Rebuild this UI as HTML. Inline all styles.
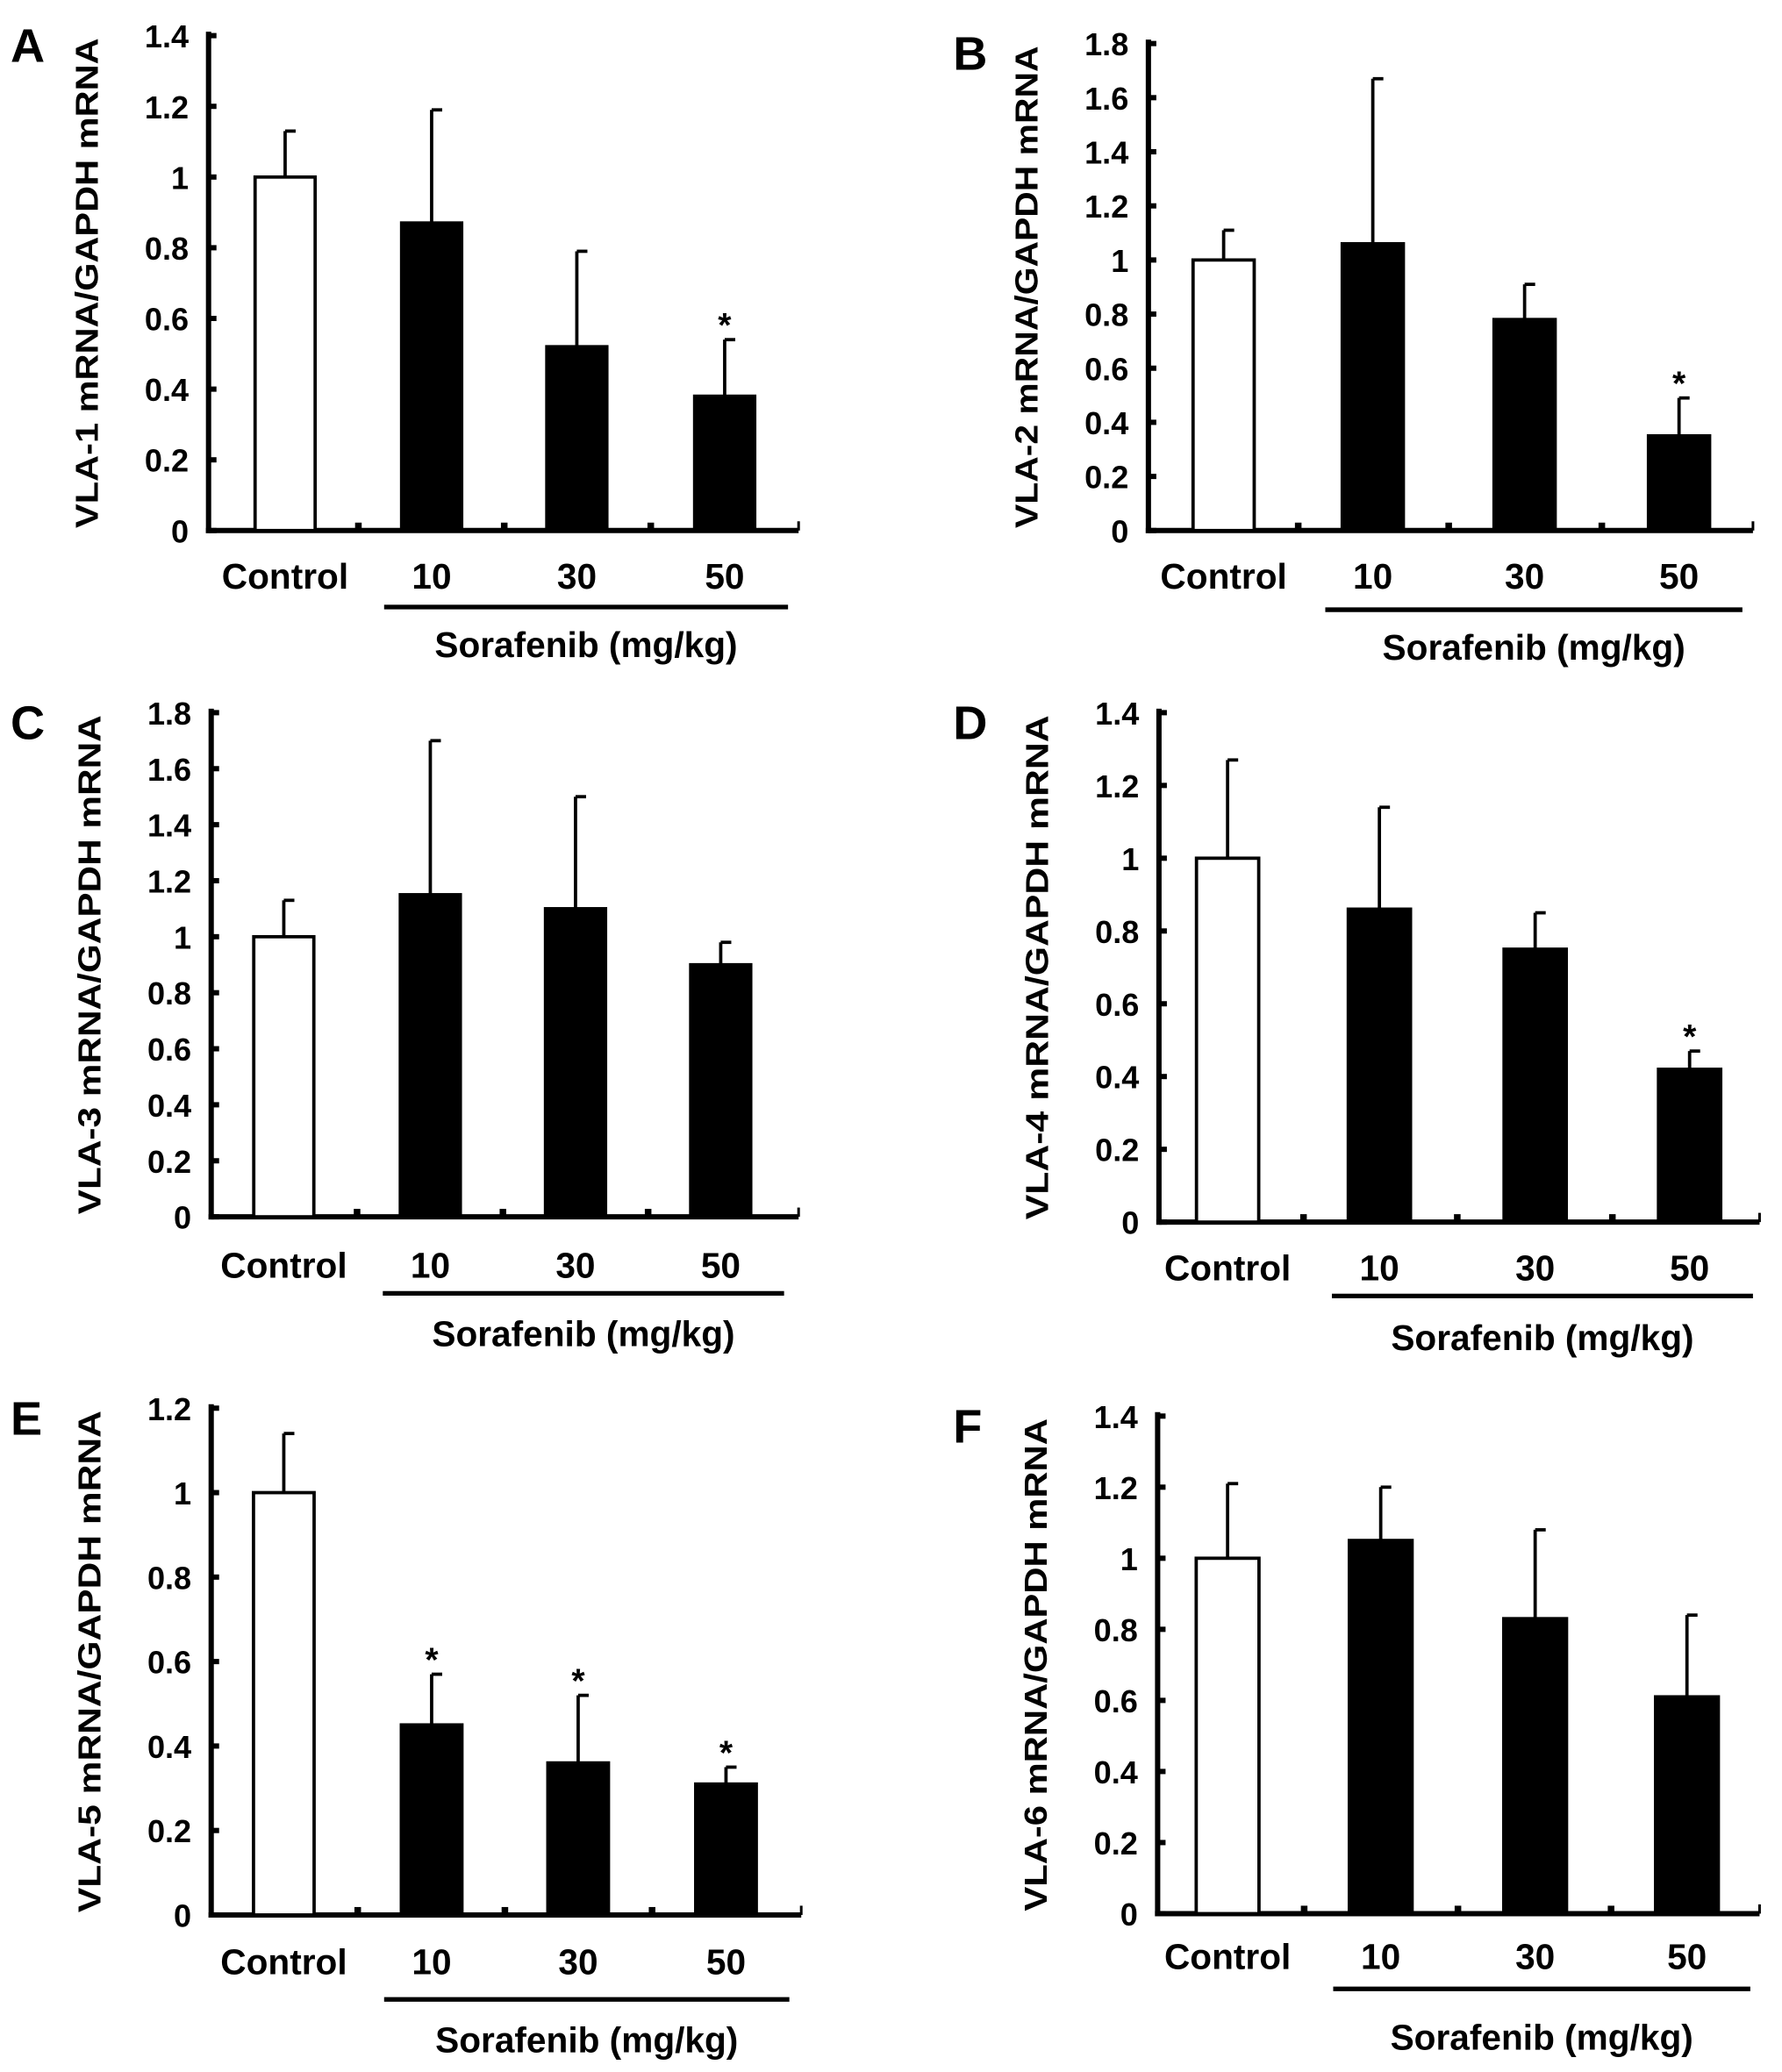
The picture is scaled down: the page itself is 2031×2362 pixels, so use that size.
<!DOCTYPE html>
<html><head><meta charset="utf-8"><style>
html,body{margin:0;padding:0;background:#fff;}
svg{display:block;}
text{font-family:"Liberation Sans",Arial,sans-serif;font-weight:bold;fill:#000;}
</style></head><body>
<svg id="fig" width="2031" height="2362" viewBox="0 0 1350 1570" preserveAspectRatio="none" xmlns="http://www.w3.org/2000/svg"></svg>
<script>
const categories = ["Control","10","30","50"];
const valsA = [1.0,0.87,0.52,0.38], errA = [1.13,1.19,0.79,0.54], starA = [0,0,0,1];
const valsB = [1.0,1.06,0.78,0.35], errB = [1.11,1.67,0.91,0.49], starB = [0,0,0,1];
const valsC = [1.0,1.15,1.10,0.90], errC = [1.13,1.70,1.50,0.98], starC = [0,0,0,0];
const valsD = [1.0,0.86,0.75,0.42], errD = [1.27,1.14,0.85,0.47], starD = [0,0,0,1];
const valsE = [1.0,0.45,0.36,0.31], errE = [1.14,0.57,0.52,0.35], starE = [0,1,1,1];
const valsF = [1.0,1.05,0.83,0.61], errF = [1.21,1.20,1.08,0.84], starF = [0,0,0,0];
const ticks14 = ["0","0.2","0.4","0.6","0.8","1","1.2","1.4"];
const ticks18 = ["0","0.2","0.4","0.6","0.8","1","1.2","1.4","1.6","1.8"];
const ticks12 = ["0","0.2","0.4","0.6","0.8","1","1.2"];

const panels = [
 {L:"A",t:"VLA-1 mRNA/GAPDH mRNA",v:valsA,e:errA,s:starA,tk:ticks14,max:1.4,ax:158,top:27,zero:402,end:605,cx:[216,327,437,549],lab:436,line:460,sor:488},
 {L:"B",t:"VLA-2 mRNA/GAPDH mRNA",v:valsB,e:errB,s:starB,tk:ticks18,max:1.8,ax:870,top:33,zero:402,end:1328,cx:[927,1040,1155,1272],lab:436,line:462,sor:490},
 {L:"C",t:"VLA-3 mRNA/GAPDH mRNA",v:valsC,e:errC,s:starC,tk:ticks18,max:1.8,ax:160,top:540,zero:922,end:605,cx:[215,326,436,546],lab:958,line:980,sor:1010},
 {L:"D",t:"VLA-4 mRNA/GAPDH mRNA",v:valsD,e:errD,s:starD,tk:ticks14,max:1.4,ax:878,top:540,zero:926,end:1333,cx:[930,1045,1163,1280],lab:960,line:982,sor:1013},
 {L:"E",t:"VLA-5 mRNA/GAPDH mRNA",v:valsE,e:errE,s:starE,tk:ticks12,max:1.2,ax:160,top:1067,zero:1451,end:607,cx:[215,327,438,550],lab:1486,line:1515,sor:1545},
 {L:"F",t:"VLA-6 mRNA/GAPDH mRNA",v:valsF,e:errF,s:starF,tk:ticks14,max:1.4,ax:877,top:1073,zero:1450,end:1333,cx:[930,1046,1163,1278],lab:1482,line:1507,sor:1543}
];
const NS="http://www.w3.org/2000/svg";
const svg=document.getElementById('fig');
function mk(tag,attrs,parent,txt){const el=document.createElementNS(NS,tag);for(const k in attrs)el.setAttribute(k,attrs[k]);if(txt!==undefined)el.textContent=txt;parent.appendChild(el);return el;}
panels.forEach(p=>{
  const g=mk('g',{},svg);
  
  
  const y=val=>p.zero-(val/p.max)*(p.zero-p.top);
  const lx = p.ax<500 ? 8 : 722;
  const lt=mk('text',{x:lx,y:p.top+20,'font-size':36},g,p.L);
  
  
  const ty=(p.top+p.zero)/2, tx=p.ax-84;
  const tt=mk('text',{x:tx,y:ty,'font-size':24,'text-anchor':'middle',transform:`rotate(-90 ${tx} ${ty})`,textLength:(p.zero-p.top)*0.99,lengthAdjust:'spacingAndGlyphs'},g,p.t);
  
  
  mk('line',{x1:p.ax,y1:p.top-3,x2:p.ax,y2:p.zero+2,stroke:'#000','stroke-width':4},g);
  const xa=mk('line',{x1:p.ax-2,y1:p.zero,x2:p.end,y2:p.zero,stroke:'#000','stroke-width':4},g);
  
  
  mk('line',{x1:p.end,y1:p.zero,x2:p.end,y2:p.zero-7,stroke:'#000','stroke-width':2},g);
  p.tk.forEach((t,i)=>{
    const v=parseFloat(t), yy=y(v);
    mk('line',{x1:p.ax,y1:yy,x2:p.ax+6,y2:yy,stroke:'#000','stroke-width':4},g);
    const tl=mk('text',{x:p.ax-15,y:yy+9,'font-size':24,'text-anchor':'end'},g,t);
    
    
  });
  const w=(p.cx[1]-p.cx[0])*0.41;
  for(let i=1;i<4;i++){const mx=(p.cx[i-1]+p.cx[i])/2;mk('line',{x1:mx,y1:p.zero,x2:mx,y2:p.zero-6,stroke:'#000','stroke-width':5},g);}
  p.v.forEach((v,i)=>{
    const cx=p.cx[i];
    const el=mk('line',{x1:cx,y1:y(v),x2:cx,y2:y(p.e[i]),stroke:'#000','stroke-width':2.5},g);
    
    
    mk('line',{x1:cx,y1:y(p.e[i]),x2:cx+8,y2:y(p.e[i]),stroke:'#000','stroke-width':2.5},g);
    const b=mk('rect',{x:cx-w/2,y:y(v),width:w,height:p.zero-y(v),fill:i===0?'#fff':'#000',stroke:'#000','stroke-width':2.5},g);
    
    
    if(p.s[i]){const st=mk('text',{x:cx,y:y(p.e[i])-2,'font-size':26,'text-anchor':'middle'},g,'*');
      
      }
    const cl=mk('text',{x:cx,y:p.lab+10,'font-size':27,'text-anchor':'middle'},g,categories[i]);
    
    
  });
  const bl=mk('line',{x1:p.cx[1]-36,y1:p.line,x2:p.cx[3]+48,y2:p.line,stroke:'#000','stroke-width':3.5},g);
  
  
  const sl=mk('text',{x:(p.cx[1]+p.cx[3])/2+6,y:p.sor+10,'font-size':27,'text-anchor':'middle'},g,'Sorafenib (mg/kg)');
  
  
});
</script>
</body></html>
